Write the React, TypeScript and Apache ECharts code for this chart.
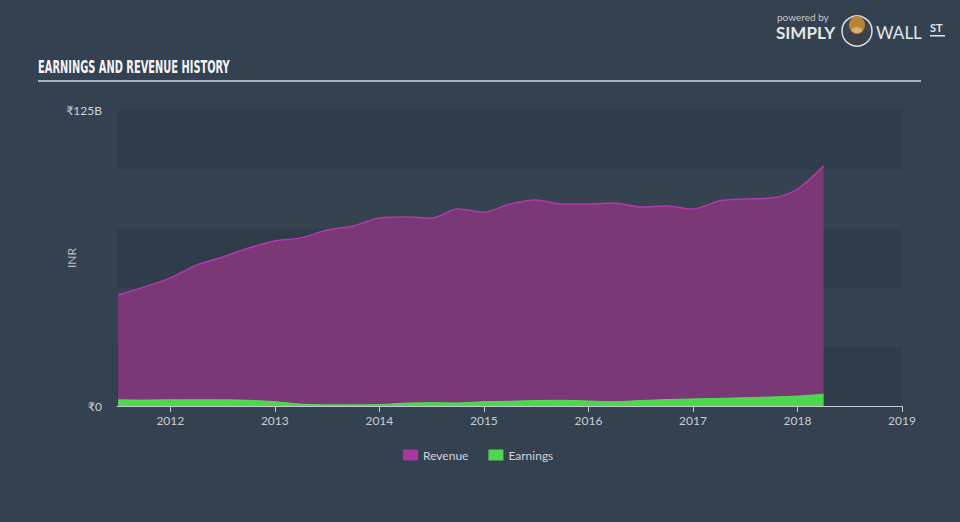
import React, { useEffect, useRef } from "react";
import * as echarts from "echarts";

const years: number[] = [
  2011.5, 2011.75, 2012.0, 2012.25, 2012.5, 2012.75, 2013.0, 2013.25, 2013.5, 2013.75,
  2014.0, 2014.25, 2014.5, 2014.75, 2015.0, 2015.25, 2015.5, 2015.75, 2016.0, 2016.25,
  2016.5, 2016.75, 2017.0, 2017.25, 2017.5, 2017.75, 2018.0, 2018.25,
];
const revenue: number[] = [
  46.9, 50.3, 54.1, 59.5, 62.9, 66.7, 69.7, 71.0, 74.3, 76.0,
  79.4, 79.8, 79.4, 83.2, 81.9, 85.3, 87.0, 85.3, 85.3, 85.7,
  84.0, 84.5, 83.2, 86.6, 87.4, 87.8, 91.6, 101.4,
];
const earnings: number[] = [
  2.6, 2.5, 2.6, 2.6, 2.6, 2.4, 1.8, 0.8, 0.5, 0.5,
  0.6, 1.2, 1.4, 1.3, 1.8, 2.0, 2.3, 2.4, 2.1, 1.8,
  2.3, 2.7, 3.0, 3.2, 3.5, 3.8, 4.2, 5.0,
];
const yearTicks: number[] = [2012, 2013, 2014, 2015, 2016, 2017, 2018, 2019];
const yLabelValues: number[] = [0, 125];

export default function App() {
  const ref = useRef<HTMLDivElement>(null);
  useEffect(() => {
    if (!ref.current) return;
    const chart = echarts.init(ref.current, null, { renderer: "svg" });
    const font = "Lato, 'Open Sans', sans-serif";
    chart.setOption({
      animation: false,
      backgroundColor: "#344150",
      textStyle: { fontFamily: font },
      grid: { left: 117, right: 58, top: 110, bottom: 116 },
      legend: {
        left: 398,
        top: 444,
        icon: "rect",
        itemWidth: 15,
        itemHeight: 11,
        itemGap: 20,
        textStyle: { color: "#d0d4d8", fontSize: 12, fontFamily: font },
        data: ["Revenue", "Earnings"],
      },
      xAxis: {
        type: "value",
        min: 2011.49,
        max: 2019,
        axisLine: { show: true, lineStyle: { color: "#c4cad0", width: 1 } },
        axisTick: { show: true, customValues: yearTicks, length: 6, lineStyle: { color: "#c4cad0" } },
        axisLabel: {
          customValues: yearTicks,
          formatter: (v: number) => String(Math.round(v)),
          color: "#c8cdd2",
          fontSize: 12,
          margin: 8,
          fontFamily: font,
        },
        splitLine: { show: false },
      },
      yAxis: {
        type: "value",
        min: 0,
        max: 125,
        interval: 25,
        name: "INR",
        nameLocation: "middle",
        nameGap: 40,
        nameMoveOverlap: false,
        nameRotate: 90,
        nameTextStyle: { color: "#b8bec4", fontSize: 12, fontFamily: font },
        axisLine: { show: false },
        axisTick: { show: false },
        axisLabel: {
          customValues: yLabelValues,
          formatter: (v: number) => (v === 0 ? "₹0" : "₹" + v + "B"),
          color: "#d0d4d8",
          fontSize: 12,
          margin: 15,
          fontFamily: font,
        },
        splitLine: { show: false },
        splitArea: { show: true, areaStyle: { color: ["#2f3c4a", "#354351"] } },
      },
      series: [
        {
          name: "Revenue",
          type: "line",
          data: years.map((y, i) => [y, revenue[i]]),
          smooth: 0.3,
          showSymbol: false,
          color: "#a8389f",
          lineStyle: { color: "#b03aa8", width: 1.5 },
          areaStyle: { color: "#7b3876", opacity: 1 },
        },
        {
          name: "Earnings",
          type: "line",
          data: years.map((y, i) => [y, earnings[i]]),
          smooth: 0.3,
          showSymbol: false,
          color: "#4fd64f",
          lineStyle: { color: "#55dd55", width: 1 },
          areaStyle: { color: "#4fd64f", opacity: 1 },
        },
      ],
      graphic: [
        {
          type: "text",
          x: 38,
          y: 58,
          scaleX: 0.61,
          style: {
            text: "EARNINGS AND REVENUE HISTORY",
            fill: "#f2f4f6",
            font: "bold 18px 'Liberation Sans Narrow', 'DejaVu Sans Condensed', sans-serif",
          },
        },
        {
          type: "rect",
          shape: { x: 38, y: 80, width: 883, height: 2 },
          style: { fill: "#a9b1b9" },
        },
        {
          type: "text",
          x: 777,
          y: 12,
          style: { text: "powered by", fill: "#c4c8cc", font: "10px " + font, lineHeight: 10 },
        },
        {
          type: "text",
          x: 776,
          y: 25,
          style: { text: "SIMPLY", fill: "#e4e6e8", font: "bold 17px " + font, lineHeight: 14 },
        },
        {
          type: "circle",
          shape: { cx: 857, cy: 31, r: 15 },
          style: { fill: "#3a4452", stroke: "#d8dadc", lineWidth: 1.5 },
        },
        {
          type: "sector",
          shape: { cx: 857, cy: 31, r: 14, r0: 0, startAngle: 0.35, endAngle: Math.PI - 0.35 },
          style: { fill: "#3d4046" },
        },
        {
          type: "polygon",
          shape: { points: [[849, 17], [846, 10], [852, 15]] },
          style: { fill: "#4a3a28" },
        },
        {
          type: "polygon",
          shape: { points: [[865, 17], [868, 10], [862, 15]] },
          style: { fill: "#4a3a28" },
        },
        {
          type: "ellipse",
          shape: { cx: 857, cy: 25, rx: 8, ry: 9 },
          style: { fill: "#b98436" },
        },
        {
          type: "ellipse",
          shape: { cx: 857, cy: 30, rx: 5, ry: 3 },
          style: { fill: "#d8b07a" },
        },
        {
          type: "text",
          x: 876,
          y: 24,
          style: { text: "WALL", fill: "#e4e6e8", font: "17px " + font },
        },
        {
          type: "text",
          x: 930,
          y: 22,
          style: { text: "ST", fill: "#e4e6e8", font: "bold 11px " + font },
        },
        {
          type: "rect",
          shape: { x: 930, y: 35, width: 15, height: 1.5 },
          style: { fill: "#e4e6e8" },
        },
      ],
    });
    return () => chart.dispose();
  }, []);
  return (
    <div
      ref={ref}
      style={{ position: "absolute", left: 0, top: 0, width: 960, height: 522 }}
    />
  );
}
